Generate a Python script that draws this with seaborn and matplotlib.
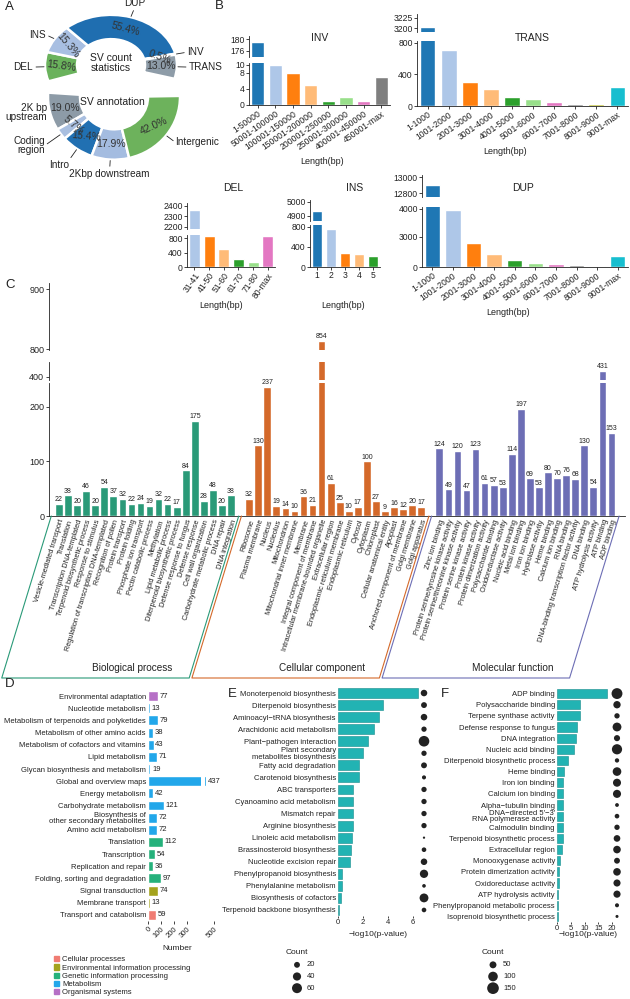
import numpy as np
import pandas as pd
import seaborn as sns
import matplotlib.pyplot as plt
from matplotlib.lines import Line2D
from matplotlib.patches import Patch

# ---------------- data ----------------
# A: SV pie charts
sv_types = ['DEL', 'INS', 'DUP', 'INV', 'TRANS']
sv_pct = [15.8, 15.3, 55.4, 0.5, 13.0]
ann_types = ['2K bp\nupstream', 'Coding\nregion', 'Intro', '2Kbp downstream', 'Intergenic']
ann_pct = [19.0, 5.7, 15.4, 17.9, 42.0]

# B: SV length distribution
inv_bins = ['1-50000', '50001-100000', '100001-150000', '150001-200000',
            '200001-250000', '250001-300000', '400001-450000', '450001-max']
inv_counts = [179, 10, 8, 5, 1, 2, 1, 7]
kb_bins = ['1-1000', '1001-2000', '2001-3000', '3001-4000', '4001-5000',
           '5001-6000', '6001-7000', '7001-8000', '8001-9000', '9001-max']
trans_counts = [3202, 715, 300, 210, 120, 90, 55, 30, 25, 240]
del_bins = ['31-41', '41-50', '51-60', '61-70', '71-80', '80-max']
del_counts = [2360, 852, 490, 220, 140, 848]
ins_bins = ['1', '2', '3', '4', '5']
ins_counts = [4935, 760, 290, 255, 230]
dup_counts = [12900, 3960, 2430, 1330, 700, 400, 330, 170, 70, 1100]

# C: GO annotation
bp_terms = ['Vesicle-mediated transport', 'Translation', 'Transcription DNA-templated',
            'Terpenoid biosynthetic process', 'Response to stimulus',
            'Regulation of transcription DNA-templated', 'Recognition of pollen', 'Protein transport',
            'Protein folding', 'Phosphate ion transport', 'Pectin catabolic process', 'Methylation',
            'Lipid metabolic process', 'Diterpenoid biosynthetic process', 'Defense response to fungus',
            'Defense response', 'Cell wall organization', 'Carbohydrate metabolic process',
            'DNA repair', 'DNA integration']
bp_counts = [22, 38, 20, 46, 20, 54, 37, 32, 22, 24, 19, 32, 22, 17, 84, 175, 28, 48, 20, 38]
cc_terms = ['Ribosome', 'Plasma membrane', 'Nucleus', 'Nucleolus', 'Mitochondrion',
            'Mitochondrial inner membrane', 'Membrane', 'Integral component of membrane',
            'Intracellular membrane-bounded organelle', 'Extracellular region',
            'Endoplasmic reticulum membrane', 'Endoplasmic reticulum', 'Cytosol', 'Cytoplasm',
            'Chloroplast', 'Cellular anatomical entity', 'Apoplast',
            'Anchored component of membrane', 'Golgi membrane', 'Golgi apparatus']
cc_counts = [32, 130, 237, 19, 14, 10, 36, 21, 854, 61, 25, 10, 17, 100, 27, 9, 16, 12, 20, 17]
mf_terms = ['Zinc ion binding', 'Protein serine/tyrosine kinase activity',
            'Protein serine/threonine kinase activity', 'Protein serine kinase activity',
            'Protein kinase activity', 'Protein dimerization activity', 'Polysaccharide binding',
            'Oxidoreductase activity', 'Nucleic acid binding', 'Metal ion binding', 'Iron ion binding',
            'Hydrolase activity', 'Heme binding', 'Calcium ion binding', 'RNA binding',
            'DNA-binding transcription factor activity', 'DNA binding', 'ATP hydrolysis activity',
            'ATP binding', 'ADP binding']
mf_counts = [124, 49, 120, 47, 123, 61, 57, 53, 114, 197, 69, 53, 80, 70, 76, 68, 130, 54, 431, 153]

# D: KEGG annotation
kegg_terms = ['Environmental adaptation', 'Nucleotide metabolism',
              'Metabolism of terpenoids and polyketides', 'Metabolism of other amino acids',
              'Metabolism of cofactors and vitamins', 'Lipid metabolism',
              'Glycan biosynthesis and metabolism', 'Global and overview maps', 'Energy metabolism',
              'Carbohydrate metabolism', 'Biosynthesis of\nother secondary metabolites',
              'Amino acid metabolism', 'Translation', 'Transcription', 'Replication and repair',
              'Folding, sorting and degradation', 'Signal transduction', 'Membrane transport',
              'Transport and catabolism']
kegg_counts = [77, 13, 79, 38, 43, 71, 19, 437, 42, 121, 72, 72, 112, 54, 36, 97, 74, 13, 59]
kegg_class = (['Organismal systems'] + ['Metabolism'] * 11 +
              ['Genetic information processing'] * 4 +
              ['Environmental information processing'] * 2 + ['Cellular processes'])
kegg_levels = ['Cellular processes', 'Environmental information processing',
               'Genetic information processing', 'Metabolism', 'Organismal systems']

# E: KEGG enrichment
e_terms = ['Monoterpenoid biosynthesis', 'Diterpenoid biosynthesis', 'Aminoacyl\u2212tRNA biosynthesis',
           'Arachidonic acid metabolism', 'Plant\u2212pathogen interaction',
           'Plant secondary\nmetabolites biosynthesis', 'Fatty acid degradation',
           'Carotenoid biosynthesis', 'ABC transporters', 'Cyanoamino acid metabolism',
           'Mismatch repair', 'Arginine biosynthesis', 'Linoleic acid metabolism',
           'Brassinosteroid biosynthesis', 'Nucleotide excision repair',
           'Phenylpropanoid biosynthesis', 'Phenylalanine metabolism', 'Biosynthesis of cofactors',
           'Terpenoid backbone biosynthesis']
e_logp = [6.4, 3.6, 3.3, 2.9, 2.4, 2.0, 1.7, 1.65, 1.2, 1.2, 1.2, 1.2, 1.1, 1.05, 0.95,
          0.35, 0.3, 0.25, 0.1]
e_count = [25, 20, 25, 16, 68, 16, 20, 9, 16, 16, 16, 16, 2, 12, 25, 41, 7, 47, 12]

# F: GO enrichment
f_terms = ['ADP binding', 'Polysaccharide binding', 'Terpene synthase activity',
           'Defense response to fungus', 'DNA integration', 'Nucleic acid binding',
           'Diterpenoid biosynthetic process', 'Heme binding', 'Iron ion binding',
           'Calcium ion binding', 'Alpha\u2212tubulin binding',
           "DNA\u2212directed 5'\u22123'\nRNA polymerase activity", 'Calmodulin binding',
           'Terpenoid biosynthetic process', 'Extracellular region', 'Monooxygenase activity',
           'Protein dimerization activity', 'Oxidoreductase activity', 'ATP hydrolysis activity',
           'Phenylpropanoid metabolic process', 'Isoprenoid biosynthetic process']
f_logp = [18.2, 8.4, 8.4, 7.3, 6.8, 6.1, 3.9, 2.6, 2.3, 2.3, 2.1, 2.1, 2.1, 2.0, 1.8,
          1.0, 0.9, 0.6, 0.5, 0.3, 0.2]
f_count = [130, 57, 28, 84, 38, 114, 17, 80, 69, 70, 12, 20, 28, 46, 61, 35, 61, 53, 54, 14, 6]

# ---------------- style ----------------
sns.set_theme(style='ticks')
plt.rcParams['font.family'] = ['Liberation Sans', 'DejaVu Sans']
plt.rcParams.update({
    'axes.linewidth': 0.6, 'axes.facecolor': 'none', 'axes.edgecolor': '#222222',
    'xtick.major.width': 0.6, 'ytick.major.width': 0.6,
    'xtick.major.size': 2, 'ytick.major.size': 2,
    'xtick.major.pad': 1, 'ytick.major.pad': 1,
    'xtick.color': '#222222', 'ytick.color': '#222222', 'text.color': '#222222',
})

W, H = 630, 999
fig = plt.figure(figsize=(W / 100, H / 100), dpi=100)


def px_axes(x0, y0, x1, y1):
    return fig.add_axes([x0 / W, 1 - y1 / H, (x1 - x0) / W, (y1 - y0) / H])


def fig_text(x, y, s, **kw):
    fig.text(x / W, 1 - y / H, s, **kw)


# ---------------- A ----------------
R, RW = 66, 32


def ring(py0, py1, k, cx, cy_px, vals, cols, start, span, ccw, names, rots, dist):
    # each ring gets its own axes; k squashes it vertically like the reference
    ax = px_axes(0, py0, 230, py1)
    cy = (py1 - cy_px) / k
    filler = sum(vals) * (360.0 / span - 1)
    wedges, _ = ax.pie(list(vals) + [filler], colors=list(cols) + ['white'],
                       startangle=start, counterclock=ccw, radius=R, center=(cx, cy),
                       wedgeprops=dict(width=RW, edgecolor='white', linewidth=1.8))
    wedges[-1].set_visible(False)
    for w, name, p, rot, d in zip(wedges[:-1], names, vals, rots, dist):
        th = np.deg2rad((w.theta1 + w.theta2) / 2)
        c, s = np.cos(th), np.sin(th)
        rm = R - RW / 2
        ax.text(cx + rm * c, cy + rm * s, f'{p:.1f}%', rotation=rot, ha='center',
                va='center', fontsize=7.5, color='#333333')
        if d > 4:
            ax.plot([cx + (R + 1) * c, cx + (R + d - 3) * c],
                    [cy + (R + 1) * s, cy + (R + d - 3) * s], color='#222222', lw=0.6)
        ha = 'left' if c > 0.35 else ('right' if c < -0.35 else 'center')
        va = 'bottom' if s > 0.8 else ('top' if s < -0.8 else 'center')
        ax.text(cx + (R + d) * c, cy + (R + d) * s, name, ha=ha, va=va, fontsize=7.2,
                linespacing=0.95)
    ax.set_xlim(0, 230)
    ax.set_ylim(0, (py1 - py0) / k)
    ax.set_aspect('auto')
    ax.axis('off')
    return ax, cy


top_cols = ['#6ab25c', '#a8bfe2', '#1f6eb0', '#c8d4e6', '#8e9ca8']
bot_cols = ['#8d9ba7', '#a9bfe0', '#2170b2', '#a4bce0', '#6db25c']
axA1, cy1 = ring(0, 100, 0.76, 111, 65, sv_pct, top_cols, 199, 215, False, sv_types,
                 [-8, -50, -15, -20, 0], [12, 10, 12, 12, 12])
axA1.text(111, cy1 + 2, 'SV count\nstatistics', ha='center', va='center', fontsize=7.5,
          linespacing=1.0)
axA2, cy2 = ring(80, 195, 0.95, 114, 97, ann_pct, bot_cols, 176, 185, True, ann_types,
                 [0, -40, -5, 0, 25], [3, 20, 14, 10, 12])
axA2.text(112, cy2 - 5, 'SV annotation', ha='center', va='center', fontsize=7.5)

# ---------------- B ----------------
tab = ['#1f77b4', '#aec7e8', '#ff7f0e', '#ffbb78', '#2ca02c', '#98df8a',
       '#e377c2', '#7f7f7f', '#bcbd22', '#17becf']


def dup_fwd(v):
    return np.interp(v, [0, 3000, 4000, 20000], [0, 30, 58, 506])


def dup_inv(v):
    return np.interp(v, [0, 30, 58, 506], [0, 3000, 4000, 20000])


def sv_length(x0, x1, top_px, bot_px, cats, vals, cols, top_lim, bot_lim, top_ticks,
              bot_ticks, title, title_xy, xlab_xy, rot=35, scale=None):
    ax_t = px_axes(x0, top_px[0], x1, top_px[1])
    ax_b = px_axes(x0, bot_px[0], x1, bot_px[1])
    for ax in (ax_t, ax_b):
        sns.barplot(x=cats, y=vals, hue=cats, palette=cols, legend=False, saturation=1,
                    width=0.75, ax=ax)
        ax.set(xlabel='', ylabel='')
        sns.despine(ax=ax)
        ax.tick_params(labelsize=6.2, length=2, pad=1)
    if scale is not None:
        ax_b.set_yscale('function', functions=scale)
    ax_t.set_ylim(*top_lim)
    ax_t.set_yticks(top_ticks)
    ax_b.set_ylim(*bot_lim)
    ax_b.set_yticks(bot_ticks)
    ax_b.set_yticklabels([str(t) for t in bot_ticks])
    ax_t.spines['bottom'].set_visible(False)
    ax_t.tick_params(axis='x', bottom=False, labelbottom=False)
    if rot:
        plt.setp(ax_b.get_xticklabels(), rotation=rot, ha='right', rotation_mode='anchor')
    fig_text(*title_xy, title, ha='center', va='center', fontsize=7.5)
    fig_text(*xlab_xy, 'Length(bp)', ha='center', va='center', fontsize=6.5)


sv_length(249, 390, (36, 57), (63, 105), inv_bins, inv_counts, tab[:8], (174, 181), (0, 10.5),
          [176, 180], [0, 4, 8, 10], 'INV', (320, 38), (322, 162))
sv_length(417, 628, (14, 32), (41, 106), kb_bins, trans_counts, tab, (3190, 3235), (0, 825),
          [3200, 3225], [0, 400, 800], 'TRANS', (532, 38), (505, 152))
sv_length(187, 275, (203, 229), (235, 267), del_bins, del_counts, tab[1:7], (2181, 2428),
          (0, 883), [2200, 2300, 2400], [0, 400, 800], 'DEL', (233, 188), (221, 305), rot=55)
sv_length(310, 380, (200, 221), (225, 267), ins_bins, ins_counts, tab[:5], (4864, 5014),
          (0, 840), [4900, 5000], [0, 400, 800], 'INS', (355, 188), (343, 305), rot=0)
sv_length(422, 628, (175, 197), (207, 267), kb_bins, dup_counts, tab, (12750, 13025),
          (0, 4070), [12800, 13000], [0, 3000, 4000], 'DUP', (523, 188), (508, 312),
          scale=(dup_fwd, dup_inv))

# ---------------- C ----------------
go_groups = [('Biological process', bp_terms, bp_counts),
             ('Cellular component', cc_terms, cc_counts),
             ('Molecular function', mf_terms, mf_counts)]
rows = []
pos = 0
for g, terms, counts in go_groups:
    for t, c in zip(terms, counts):
        rows.append((pos, t, c, g))
        pos += 1
    pos += 1
go = pd.DataFrame(rows, columns=['pos', 'term', 'count', 'group'])
dark2 = ['#2a9a78', '#d4692a', '#6d6eb5']


def top_fwd(v):
    return np.interp(v, [0, 795, 860, 905, 2000], [-795, 0, 10, 67, 1454])


def top_inv(v):
    return np.interp(v, [-795, 0, 10, 67, 1454], [0, 795, 860, 905, 2000])


axC_top = px_axes(49, 283, 625, 350)
axC_mid = px_axes(49, 362, 625, 380)
axC_bot = px_axes(49, 383, 625, 516)
axC_top.set_yscale('function', functions=(top_fwd, top_inv))
c_axes = [(axC_top, (795, 905), [800, 900]), (axC_mid, (384, 478), [400]),
          (axC_bot, (0, 244), [0, 100, 200])]
xl = (-1.1, 62.5)
for ax, lim, ticks in c_axes:
    sns.barplot(data=go, x='pos', y='count', hue='group', palette=dark2, native_scale=True,
                dodge=False, width=0.85, saturation=1, legend=False, ax=ax)
    ax.set(xlabel='', ylabel='')
    sns.despine(ax=ax)
    ax.set_xlim(*xl)
    ax.set_ylim(*lim)
    ax.set_yticks(ticks)
    ax.set_yticklabels([str(t) for t in ticks])
    ax.tick_params(axis='y', labelsize=6.5, length=2.5)
    if ax is not axC_bot:
        ax.spines['bottom'].set_visible(False)
        ax.tick_params(axis='x', bottom=False, labelbottom=False)
    for p, c in zip(go['pos'], go['count']):
        if lim[0] < c <= lim[1] + 1:
            ax.annotate(str(c), (p, c), xytext=(0, 0.4), textcoords='offset points',
                        ha='center', va='bottom', fontsize=5)
axC_bot.set_xticks(go['pos'])
axC_bot.set_xticklabels(go['term'], rotation=73, ha='right', rotation_mode='anchor',
                        fontsize=5.3)
axC_bot.tick_params(axis='x', length=0, pad=2)

# group frames under the labels
bpos = axC_bot.get_position()
slant = 162 / np.tan(np.deg2rad(73)) / W
y_top, y_bot = bpos.y0, 1 - 678 / H


def xfig(xd):
    return bpos.x0 + (xd - xl[0]) / (xl[1] - xl[0]) * bpos.width


for (g, terms, counts), col in zip(go_groups, dark2):
    sub = go[go['group'] == g]
    lo = max(sub['pos'].min() - 0.85, xl[0])
    hi = min(sub['pos'].max() + 0.85, xl[1])
    xa, xb = xfig(lo), xfig(hi)
    fig.add_artist(Line2D([xa, xa - slant, xb - slant, xb], [y_top, y_bot, y_bot, y_top],
                          transform=fig.transFigure, color=col, lw=0.8))
    fig.text((xa + xb) / 2 - slant / 2 + 12 / W, y_bot + 10 / H, g, ha='center',
             va='center', fontsize=7.2)

# ---------------- D ----------------
kegg_pal = dict(zip(kegg_levels, ['#f07c73', '#a4a31d', '#25b17b', '#22a7ea', '#b670c6']))
axD1 = px_axes(148, 690, 201, 921)
axD2 = px_axes(205, 690, 214, 921)
for ax, lim, ticks in [(axD1, (0, 405), [0, 100, 200, 300]), (axD2, (428, 500), [500])]:
    sns.barplot(x=kegg_counts, y=kegg_terms, hue=kegg_class, palette=kegg_pal, dodge=False,
                width=0.82, saturation=1, legend=False, ax=ax, orient='h')
    ax.set(xlabel='', ylabel='')
    sns.despine(ax=ax, left=True, bottom=True)
    ax.set_xlim(*lim)
    ax.set_xticks(ticks)
    ax.set_xticklabels([str(t) for t in ticks], rotation=45, ha='right',
                       rotation_mode='anchor', fontsize=5.5)
    ax.tick_params(axis='y', length=0, pad=1.5, labelsize=5.5)
    for i, c in enumerate(kegg_counts):
        if lim[0] < c <= lim[1]:
            ax.annotate(str(c), (c, i), xytext=(1.2, 0), textcoords='offset points',
                        ha='left', va='center', fontsize=5.5)
axD2.tick_params(axis='y', left=False, labelleft=False)
for t in axD1.get_yticklabels():
    t.set_linespacing(0.85)
fig_text(177, 948, 'Number', ha='center', va='center', fontsize=6)
handles = [Patch(color=kegg_pal[k]) for k in kegg_levels]
fig.legend(handles, kegg_levels, loc='upper left', bbox_to_anchor=(54 / W, 1 - 956 / H),
           frameon=False, fontsize=5.5, handlelength=0.7, handleheight=0.7,
           handletextpad=0.4, labelspacing=0.12, borderpad=0, borderaxespad=0)

# ---------------- E / F ----------------
teal = '#22b3b3'


def enrich(bar_box, dot_box, leg_box, terms, logp, counts, xmax, ticks, sizes, norm,
           leg_vals, xlab_xy, count_xy):
    ax = px_axes(*bar_box)
    sns.barplot(x=logp, y=terms, color=teal, saturation=1, width=0.82, orient='h',
                edgecolor='#178c8c', linewidth=0.4, ax=ax)
    ax.set(xlabel='', ylabel='')
    sns.despine(ax=ax, left=True, bottom=True)
    ax.set_xlim(0, xmax)
    ax.set_xticks(ticks)
    ax.tick_params(axis='x', labelsize=5.5, length=1.5, pad=1)
    ax.tick_params(axis='y', length=0, pad=1.5, labelsize=5.5)
    for t in ax.get_yticklabels():
        t.set_linespacing(0.85)
    n = len(terms)
    axd = px_axes(*dot_box)
    sns.scatterplot(x=np.zeros(n), y=np.arange(n), size=counts, sizes=sizes, size_norm=norm,
                    color='#222222', edgecolor='none', legend=False, ax=axd)
    axd.set_xlim(-1, 1)
    axd.set_ylim(n - 0.5, -0.5)
    axd.axis('off')
    axl = px_axes(*leg_box)
    sns.scatterplot(x=[10] * len(leg_vals), y=np.arange(len(leg_vals)), size=leg_vals,
                    sizes=sizes, size_norm=norm, color='#222222', edgecolor='none',
                    legend=False, ax=axl)
    for i, v in enumerate(leg_vals):
        axl.text(20, i, str(v), ha='left', va='center', fontsize=5.5)
    axl.set_xlim(0, leg_box[2] - leg_box[0])
    axl.set_ylim(len(leg_vals) - 0.5, -0.5)
    axl.axis('off')
    fig_text(*xlab_xy, '\u2212log10(p-value)', ha='center', va='center', fontsize=6)
    fig_text(*count_xy, 'Count', ha='center', va='center', fontsize=6)


enrich((338, 687, 419, 916), (416, 687, 432, 916), (287, 959, 330, 994), e_terms, e_logp,
       e_count, 6.5, [0, 2, 4, 6], (1, 60), (0, 70), [20, 40, 60], (378, 935), (297, 952))
enrich((557, 688, 612, 922), (609, 688, 625, 922), (483, 959, 526, 994), f_terms, f_logp,
       f_count, 20, [0, 5, 10, 15, 20], (2, 75), (0, 160), [50, 100, 150], (588, 935),
       (493, 952))

# ---------------- panel letters ----------------
for letter, (x, y) in zip('ABCDEF', [(5, 7), (215, 6), (5, 285), (5, 684), (228, 694), (441, 694)]):
    fig_text(x, y, letter, ha='left', va='center', fontsize=9.5)

fig.savefig('out.png', dpi=100, facecolor='white')
